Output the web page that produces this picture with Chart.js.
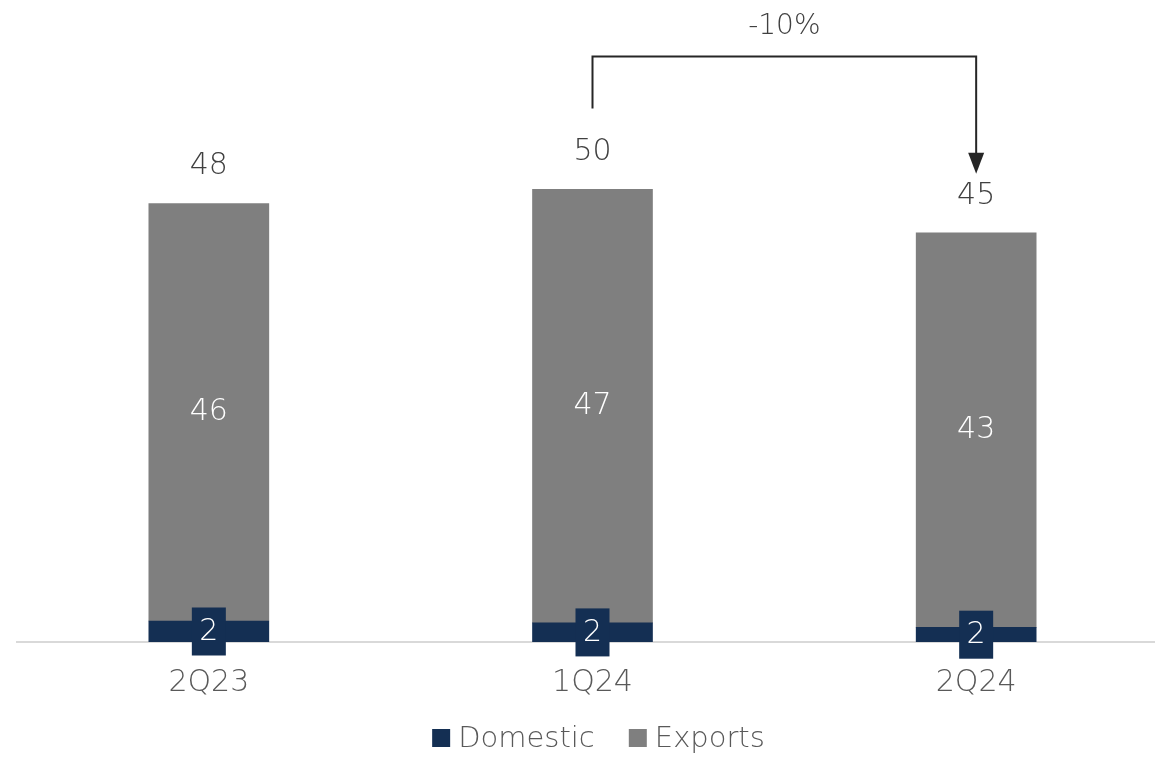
<!DOCTYPE html>
<html>
<head>
<meta charset="utf-8">
<script src="https://cdn.jsdelivr.net/npm/chart.js@4"></script>
<style>
    html, body { margin: 0; padding: 0; background: #fff; overflow: hidden; }
</style>
</head>
<body>
<!-- canvas runs a little past the right edge of the page, so the last bar sits where the axis is cut off -->
<canvas id="myChart" width="1168" height="757"></canvas>
<script>
"use strict";

const quarters = ['2Q23', '1Q24', '2Q24'];
const domestic = [2.3, 2.1, 1.6];
const exportSales = [45.7, 47.45, 43.2];
const changeLabel = '-10%';

const navy = '#142f53';
const grey = '#7f7f7f';
const fontFamily = '"DejaVu Sans", Lato, sans-serif';
const fontWeight = '200';

// value labels, the navy tags on the domestic part and the change arrow
const barLabels = {
    id: 'barLabels',
    afterDatasetsDraw(chart) {
        const ctx = chart.ctx;
        const dom = chart.getDatasetMeta(0).data;
        const exp = chart.getDatasetMeta(1).data;
        ctx.save();
        ctx.textAlign = 'center';
        ctx.textBaseline = 'middle';
        ctx.font = fontWeight + ' 30px ' + fontFamily;

        for (let i = 0; i < quarters.length; i++) {
            const d = dom[i];
            const dy = (d.y + d.base) / 2;
            ctx.fillStyle = navy;
            ctx.fillRect(d.x - 17, dy - 24, 34, 48);
            ctx.fillStyle = '#fff';
            ctx.fillText(Math.round(domestic[i]), d.x, dy + 1);

            const e = exp[i];
            ctx.fillText(Math.round(exportSales[i]), e.x, (e.y + e.base) / 2);

            ctx.fillStyle = '#404040';
            ctx.fillText(Math.round(domestic[i] + exportSales[i]), e.x, e.y - 37);
        }

        // 1Q24 -> 2Q24 bracket
        const a = exp[1];
        const b = exp[2];
        const lineY = a.y - 133;
        ctx.strokeStyle = '#262626';
        ctx.lineWidth = 2;
        ctx.beginPath();
        ctx.moveTo(a.x, a.y - 81);
        ctx.lineTo(a.x, lineY);
        ctx.lineTo(b.x, lineY);
        ctx.lineTo(b.x, b.y - 76);
        ctx.stroke();

        ctx.fillStyle = '#262626';
        ctx.beginPath();
        ctx.moveTo(b.x - 8, b.y - 80);
        ctx.lineTo(b.x + 8, b.y - 80);
        ctx.lineTo(b.x, b.y - 59);
        ctx.closePath();
        ctx.fill();

        ctx.fillStyle = '#404040';
        ctx.font = fontWeight + ' 28px ' + fontFamily;
        ctx.fillText(changeLabel, (a.x + b.x) / 2, lineY - 30);
        ctx.restore();
    }
};

// legend drawn by hand so the gaps can be set apart from its height
const bottomLegend = {
    id: 'bottomLegend',
    afterDraw(chart) {
        const ctx = chart.ctx;
        const sets = chart.data.datasets;
        const box = 18;
        const gap = 8;
        const itemGap = 34;
        const y = chart.height - 19;
        ctx.save();
        ctx.font = fontWeight + ' 29px ' + fontFamily;
        ctx.textBaseline = 'middle';
        ctx.textAlign = 'left';
        let total = 0;
        sets.forEach((ds, i) => {
            total += box + gap + ctx.measureText(ds.label).width;
            if (i > 0) total += itemGap;
        });
        let x = (chart.chartArea.left + chart.chartArea.right) / 2 + 6 - total / 2;
        sets.forEach((ds) => {
            ctx.fillStyle = ds.backgroundColor;
            ctx.fillRect(x, y - box / 2, box, box);
            x += box + gap;
            ctx.fillStyle = '#595959';
            ctx.fillText(ds.label, x, y + 1);
            x += ctx.measureText(ds.label).width + itemGap;
        });
        ctx.restore();
    }
};

const ctx = document.getElementById('myChart').getContext('2d');

new Chart(ctx, {
    type: 'bar',
    data: {
        labels: quarters,
        datasets: [{
            label: 'Domestic',
            data: domestic,
            backgroundColor: navy,
            barThickness: 120
        }, {
            label: 'Exports',
            data: exportSales,
            backgroundColor: grey,
            barThickness: 120
        }]
    },
    options: {
        responsive: false,
        animation: false,
        layout: {
            padding: { top: 94, left: 17, right: 0, bottom: 33 }
        },
        scales: {
            x: {
                stacked: true,
                grid: { display: false, drawTicks: false },
                border: { color: '#d9d9d9', width: 2 },
                ticks: {
                    color: '#595959',
                    padding: 23,
                    font: { size: 30, family: fontFamily, weight: fontWeight }
                }
            },
            y: {
                stacked: true,
                display: false,
                min: 0,
                max: 60
            }
        },
        plugins: {
            legend: { display: false },
            tooltip: { enabled: false }
        }
    },
    plugins: [barLabels, bottomLegend]
});
</script>
</body>
</html>
